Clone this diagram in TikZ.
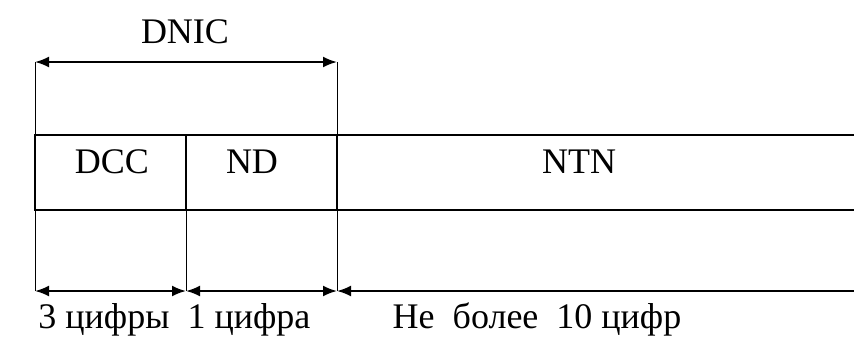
\documentclass[tikz,border=0pt]{standalone}
\usepackage{fontspec}
\setmainfont{Liberation Serif}
\usetikzlibrary{arrows.meta,positioning,calc}

\begin{document}
\begin{tikzpicture}[x=1pt, y=-1pt,
            every node/.style={font=\fontsize{36}{40}\selectfont, inner sep=0pt},
            cell/.style={draw, line width=2.6pt, outer sep=0pt, minimum height=75pt, anchor=north west},
            guide/.style={line width=0.8pt},
            span/.style={{Latex[length=14pt,width=11pt]}-{Latex[length=14pt,width=11pt]}, line width=2pt}]
        \useasboundingbox (0,0) rectangle (854,349);
        \clip (0,0) rectangle (854,349);
        % cells of the number
        \node[cell, minimum width=151pt] (dcc) at (35,135) {};
        \node[cell, minimum width=151pt] (nd) at (186,135) {};
        \node[cell, minimum width=560pt] (ntn) at (337,135) {};
        \node[anchor=base] (dcc-t) at (112,173) {DCC};
        \node[anchor=base] (nd-t) at (252,173) {ND};
        \node[anchor=base] (ntn-t) at (579,173) {NTN};
        % DNIC span
        \coordinate (dnic-l) at (35,62);
        \coordinate (dnic-r) at (337,62);
        \draw[guide] (dcc.north west) -- (dnic-l);
        \draw[guide] (nd.north east) -- (dnic-r);
        \draw[span] (dnic-l) -- (dnic-r);
        \node[anchor=base] (dnic) at (185,43) {DNIC};
        % digit spans
        \coordinate (b0) at (35,291);
        \coordinate (b1) at (186,291);
        \coordinate (b2) at (337,291);
        \coordinate (b3) at (900,291);
        \draw[guide] (dcc.south west) -- (b0);
        \draw[guide] (dcc.south east) -- (b1);
        \draw[guide] (nd.south east) -- (b2);
        \draw[span] (b0) -- (b1);
        \draw[span] (b1) -- (b2);
        \draw[span] (b2) -- (b3);
        \node[anchor=base] (dcc-n) at (104,328) {3 цифры};
        \node[anchor=base] (nd-n) at (249,328) {1 цифра};
        \node[anchor=base] (ntn-n) at (537,328) {Не\ \ более\ \ 10 цифр};
\end{tikzpicture}
\end{document}
